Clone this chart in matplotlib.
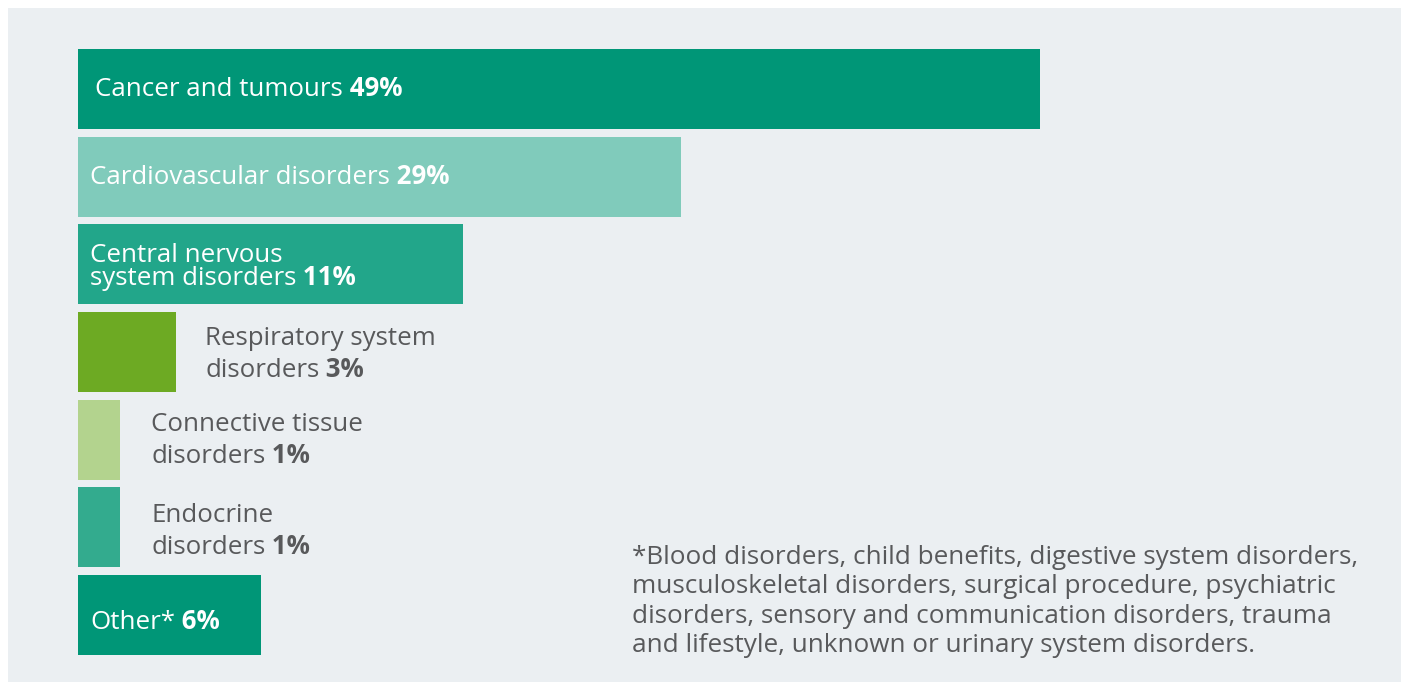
import matplotlib
matplotlib.use('Agg')
import matplotlib.pyplot as plt

# data
categories = ['Cancer and tumours', 'Cardiovascular disorders', 'Central nervous\nsystem disorders',
              'Respiratory system\ndisorders', 'Connective tissue\ndisorders', 'Endocrine\ndisorders', 'Other*']
pct_labels = ['49%', '29%', '11%', '3%', '1%', '1%', '6%']
# drawn bar lengths (not to scale with the percentages in the original)
bar_len = [49, 30.7, 19.6, 5.0, 2.14, 2.14, 9.3]
colors = ['#009677', '#80cbbb', '#22a68a', '#6daa23', '#b3d38e', '#33ab8e', '#009677']
inside = [True, True, True, False, False, False, True]
footnote = ("*Blood disorders, child benefits, digestive system disorders,\n"
            "musculoskeletal disorders, surgical procedure, psychiatric\n"
            "disorders, sensory and communication disorders, trauma\n"
            "and lifestyle, unknown or urinary system disorders.")

W, H = 1405, 682
BG = '#ebeff2'
GREY = '#58595b'
FONT = 'Open Sans'

fig = plt.figure(figsize=(W / 100, H / 100), dpi=100)
fig.patch.set_facecolor('white')

# panel: pixels 8..1401 horizontally, 8..682 vertically
ax = fig.add_axes([8 / W, 0, (1401 - 8) / W, (682 - 8) / H])
ax.set_facecolor(BG)
for s in ax.spines.values():
    s.set_visible(False)
ax.set_xticks([])
ax.set_yticks([])

px = 962 / 49.0          # pixels per length unit
pitch = 87.67            # pixels between bar centres
ax.set_xlim(-70 / px, (1401 - 78) / px)
ax.set_ylim((682 - 89) / pitch, (8 - 89) / pitch)

ypos = list(range(len(categories)))
ax.barh(ypos, bar_len, height=80 / pitch, color=colors, align='center')

fs = 18.6
shift = {0: 0, 1: 1, 2: 2.5, 3: 2, 4: 1, 5: 4, 6: 7}
for i, (cat, pct) in enumerate(zip(categories, pct_labels)):
    lines = cat.split('\n')
    if inside[i]:
        col = 'white'
        x0 = 0
        dx = 17 if i == 0 else 12
        gap = 23.5
    else:
        col = GREY
        x0 = bar_len[i]
        dx = 29 if i == 3 else 31
        gap = 32
    n = len(lines)
    for k, line in enumerate(lines):
        dy = shift[i] + (k - (n - 1) / 2) * gap
        t = ax.annotate(line, xy=(x0, i), xytext=(dx, -dy), textcoords='offset pixels',
                        ha='left', va='center', fontsize=fs, color=col, family=FONT)
    ax.annotate(' ' + pct, xy=(1, 0), xycoords=t, ha='left', va='bottom',
                fontsize=fs, color=col, family=FONT, fontweight='bold')

fig.text(632 / W, 1 - 545 / H, footnote, ha='left', va='top', fontsize=18.8,
         color=GREY, family=FONT, linespacing=1.23)

fig.savefig('out.png', dpi=100, facecolor='white')
